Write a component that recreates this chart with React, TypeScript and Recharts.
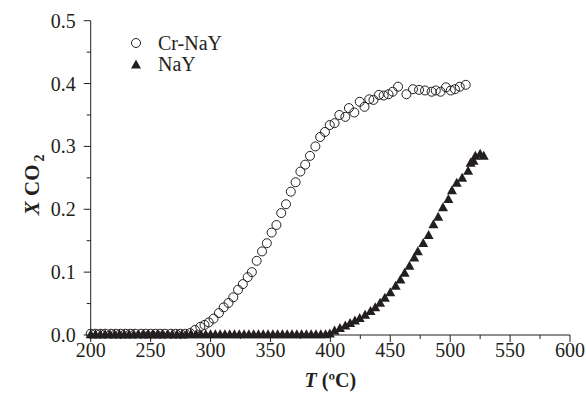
import { Label, Scatter, ScatterChart, XAxis, YAxis } from "recharts";

// Cr-NaY (open circles)
const crT = [
  200, 204, 208, 212, 217, 221, 225, 229, 233, 237, 242, 246, 250, 254, 258, 262, 267, 271, 275, 279, 283,
  287, 291.5, 295, 298.5, 302.5, 307, 311, 315, 319, 323, 327, 331, 334.5, 338.5, 343, 347, 351, 355, 359, 363,
  367, 371, 375, 379, 383, 387.5, 391.5, 395.5, 399.5, 403.5, 407.5, 412.5, 415.5, 420, 424.5, 428.5, 432.5,
  436, 440.5, 444.5, 448.5, 452, 456.5, 463.5, 469, 474, 479, 484.5, 488, 492, 496.5, 500.5, 504, 508, 513,
];
const crX = [
  0.002, 0.002, 0.002, 0.002, 0.002, 0.002, 0.002, 0.002, 0.002, 0.002, 0.002, 0.002, 0.002, 0.002, 0.002, 0.002,
  0.002, 0.002, 0.002, 0.002, 0.003, 0.008, 0.013, 0.016, 0.02, 0.026, 0.035, 0.044, 0.051, 0.06, 0.072, 0.081,
  0.092, 0.1, 0.118, 0.133, 0.146, 0.163, 0.175, 0.194, 0.208, 0.228, 0.243, 0.26, 0.271, 0.285, 0.3, 0.315,
  0.323, 0.334, 0.337, 0.35, 0.347, 0.361, 0.354, 0.371, 0.363, 0.375, 0.374, 0.382, 0.381, 0.383, 0.387, 0.395,
  0.383, 0.391, 0.39, 0.389, 0.387, 0.389, 0.387, 0.394, 0.389, 0.391, 0.395, 0.398,
];

// NaY (filled triangles)
const nayT = [
  200, 204, 208, 212, 216, 220, 224, 228, 232, 236, 240, 244, 248, 252, 256, 260, 264, 268, 272, 276, 280,
  284, 288, 292, 296, 300, 304, 308, 312, 316, 320, 324, 328, 332, 336, 340, 344, 348, 352, 356, 360, 364,
  368, 372, 376, 380, 384, 388, 392, 396, 399.5, 403.5, 408, 412.5, 416.5, 420.5, 424.5, 429, 433.5, 437.5,
  441.5, 445.5, 450, 454.5, 458.5, 462, 466, 470, 473, 477.5, 482, 486, 490, 494, 498.5, 501.5, 505.5, 510,
  515, 517, 519.5, 521, 525, 528,
];
const nayX = [
  0.002, 0.002, 0.002, 0.002, 0.002, 0.002, 0.002, 0.002, 0.002, 0.002, 0.002, 0.002, 0.002, 0.002, 0.002,
  0.002, 0.002, 0.002, 0.002, 0.002, 0.002, 0.002, 0.002, 0.002, 0.002, 0.002, 0.002, 0.002, 0.002, 0.002,
  0.002, 0.002, 0.002, 0.002, 0.002, 0.002, 0.002, 0.002, 0.002, 0.002, 0.002, 0.002, 0.002, 0.002, 0.002,
  0.002, 0.002, 0.002, 0.002, 0.002, 0.003, 0.008, 0.012, 0.016, 0.02, 0.024, 0.028, 0.033, 0.039, 0.045,
  0.052, 0.06, 0.069, 0.079, 0.089, 0.1, 0.111, 0.124, 0.134, 0.147, 0.16, 0.177, 0.189, 0.204, 0.217, 0.231,
  0.243, 0.251, 0.262, 0.275, 0.278, 0.286, 0.289, 0.286,
];

const xTicks = [200, 225, 250, 275, 300, 325, 350, 375, 400, 425, 450, 475, 500, 525, 550, 575, 600];
const yTicks = [0, 0.05, 0.1, 0.15, 0.2, 0.25, 0.3, 0.35, 0.4, 0.45, 0.5];

const crData = crT.map((t, i) => ({ t, x: crX[i] }));
const nayData = nayT.map((t, i) => ({ t, x: nayX[i] }));

const FONT = "'Liberation Serif', 'Times New Roman', serif";
const INK = "#231f20";
const TICK_SIZE = 7;

function XTick({ x, y, payload }: any) {
  const v = payload.value;
  const major = v % 50 === 0;
  const top = y - TICK_SIZE;
  return (
    <g>
      <line x1={x} x2={x} y1={top} y2={top + (major ? 7 : 4)} stroke={INK} />
      {major && (
        <text x={x} y={y} dy={15} textAnchor="middle" fontSize={20} fontFamily={FONT} fill={INK}>
          {v}
        </text>
      )}
    </g>
  );
}

function YTick({ x, y, payload }: any) {
  const v = payload.value;
  const major = Math.round(v * 100) % 10 === 0;
  const right = x + TICK_SIZE;
  return (
    <g>
      <line x1={right} x2={right - (major ? 7 : 4)} y1={y} y2={y} stroke={INK} />
      {major && (
        <text x={x - 8} y={y} dy={7} textAnchor="end" fontSize={20} fontFamily={FONT} fill={INK}>
          {v.toFixed(1)}
        </text>
      )}
    </g>
  );
}

const OpenCircle = ({ cx, cy }: any) => (
  <circle cx={cx} cy={cy} r={4.5} fill="none" stroke={INK} strokeWidth={1} />
);

const FilledTriangle = ({ cx, cy }: any) => (
  <polygon points={`${cx - 5},${cy + 4.5} ${cx + 5},${cy + 4.5} ${cx},${cy - 4.5}`} fill={INK} />
);

function LegendBox() {
  return (
    <svg width={120} height={50} style={{ position: "absolute", left: 125, top: 30, overflow: "visible" }}>
      <circle cx={11} cy={13} r={4.5} fill="none" stroke={INK} />
      <text x={33} y={20} fontSize={20} fontFamily={FONT} fill={INK}>Cr-NaY</text>
      <polygon points="6,38.5 16,38.5 11,29.5" fill={INK} />
      <text x={33} y={41} fontSize={20} fontFamily={FONT} fill={INK}>NaY</text>
    </svg>
  );
}

export default function App() {
  return (
    <div style={{ position: "absolute", left: 0, top: 0, width: 586, height: 395, background: "#fff" }}>
      <ScatterChart width={586} height={395} margin={{ top: 20.7, right: 16, bottom: 0, left: 30.7 }}>
        <XAxis
          type="number"
          dataKey="t"
          domain={[200, 600]}
          ticks={xTicks}
          interval={0}
          height={60}
          tickSize={TICK_SIZE}
          tickMargin={0}
          tickLine={false}
          tick={<XTick />}
          stroke={INK}
        >
          <Label
            content={({ viewBox }: any) => (
              <text
                x={viewBox.x + viewBox.width / 2}
                y={viewBox.y + 52}
                textAnchor="middle"
                fontSize={20}
                fontWeight="bold"
                fontFamily={FONT}
                fill={INK}
              >
                <tspan fontStyle="italic">T</tspan>
                <tspan> (ºC)</tspan>
              </text>
            )}
          />
        </XAxis>
        <YAxis
          type="number"
          dataKey="x"
          domain={[0, 0.5]}
          ticks={yTicks}
          interval={0}
          width={60}
          tickSize={TICK_SIZE}
          tickMargin={0}
          tickLine={false}
          tick={<YTick />}
          stroke={INK}
        >
          <Label
            content={({ viewBox }: any) => {
              const cx = viewBox.x + 8;
              const cy = viewBox.y + viewBox.height / 2 + 7;
              return (
                <text
                  x={cx}
                  y={cy}
                  transform={`rotate(-90 ${cx} ${cy})`}
                  textAnchor="middle"
                  fontSize={21}
                  fontWeight="bold"
                  fontFamily={FONT}
                  fill={INK}
                >
                  <tspan fontStyle="italic">X</tspan>
                  <tspan> CO</tspan>
                  <tspan fontSize={14} dx={3} dy={5}>2</tspan>
                </text>
              );
            }}
          />
        </YAxis>
        <Scatter name="Cr-NaY" data={crData} shape={<OpenCircle />} isAnimationActive={false} />
        <Scatter name="NaY" data={nayData} shape={<FilledTriangle />} isAnimationActive={false} />
      </ScatterChart>
      <LegendBox />
    </div>
  );
}
